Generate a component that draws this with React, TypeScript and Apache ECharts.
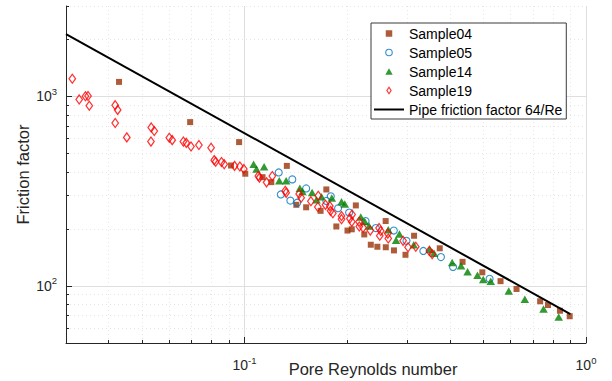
import React, { useEffect, useRef } from 'react';
import * as echarts from 'echarts';

// ---- data ----
const sample04: [number, number][] = [
  [0.0429, 1193], [0.0693, 732], [0.0964, 574], [0.0913, 432], [0.1005, 391],
  [0.1129, 375], [0.1198, 353], [0.133, 430], [0.1418, 268], [0.1515, 260],
  [0.167, 249], [0.1736, 323], [0.1857, 206], [0.2002, 196], [0.2061, 199],
  [0.2118, 266], [0.2242, 187], [0.2343, 165], [0.2449, 161], [0.2592, 160],
  [0.259, 220], [0.2739, 154], [0.296, 146], [0.3137, 184], [0.373, 158],
  [0.435, 134], [0.497, 118], [0.562, 106], [0.626, 96.4], [0.734, 83.0],
  [0.774, 79.3], [0.839, 74.0], [0.896, 69.2],
];
const sample05: [number, number][] = [
  [0.1259, 397], [0.138, 365], [0.1277, 304], [0.1362, 282], [0.1426, 275],
  [0.1515, 327], [0.1789, 297], [0.1736, 281], [0.1879, 257], [0.2024, 244],
  [0.2262, 220], [0.2423, 202], [0.2736, 196], [0.298, 173], [0.3339, 153],
  [0.376, 142], [0.408, 126], [0.522, 109],
];
const sample14: [number, number][] = [
  [0.1063, 439], [0.1084, 414], [0.1141, 425], [0.1264, 359], [0.1324, 359],
  [0.1452, 328], [0.1478, 315], [0.1577, 311], [0.1625, 285], [0.168, 296],
  [0.1801, 291], [0.1923, 278], [0.1966, 271], [0.219, 231], [0.225, 219],
  [0.2316, 207], [0.2636, 198], [0.2842, 188], [0.2778, 174], [0.313, 165],
  [0.3485, 156], [0.3589, 149], [0.4055, 133], [0.4306, 128], [0.45, 119],
  [0.481, 114], [0.5, 108], [0.526, 106], [0.594, 94.1], [0.662, 85.1],
  [0.751, 75.6], [0.832, 68.6],
];
const sample19: [number, number][] = [
  [0.0313, 1240], [0.0328, 964], [0.0342, 1002], [0.0348, 1005], [0.0351, 893],
  [0.0418, 899], [0.0425, 849], [0.0418, 724], [0.0452, 608], [0.0533, 686],
  [0.0544, 657], [0.0532, 578], [0.0602, 605], [0.0614, 588], [0.0662, 578],
  [0.0675, 569], [0.0697, 544], [0.0735, 554], [0.0798, 536], [0.0815, 461],
  [0.0823, 452], [0.0856, 451], [0.0872, 439], [0.0935, 430], [0.0969, 427],
  [0.0995, 414], [0.1097, 380], [0.1106, 373], [0.116, 352], [0.1206, 380],
  [0.1316, 318], [0.1324, 310], [0.1445, 306], [0.1465, 292], [0.1564, 280],
  [0.1644, 299], [0.1639, 261], [0.1726, 268], [0.1777, 264], [0.1786, 249],
  [0.1814, 242], [0.1923, 234], [0.1923, 225], [0.2034, 227], [0.2061, 218],
  [0.2065, 238], [0.2164, 218], [0.2168, 206], [0.2224, 203], [0.2335, 196],
  [0.2477, 202], [0.2489, 184], [0.2506, 195], [0.2628, 189], [0.2636, 178],
  [0.2913, 173], [0.3012, 160], [0.3173, 161], [0.3478, 153], [0.3545, 147],
];
const pipeLine: [number, number][] = [[0.03, 2133], [0.9, 71.1]];

const seriesNames = ['Sample04', 'Sample05', 'Sample14', 'Sample19', 'Pipe friction factor 64/Re'];
const xMajorTicks = [0.1, 1];
const xMinorTicks = [0.04, 0.05, 0.06, 0.07, 0.08, 0.09, 0.2, 0.3, 0.4, 0.5, 0.6, 0.7, 0.8, 0.9];
const yMajorTicks = [100, 1000];
const yMinorTicks = [60, 70, 80, 90, 200, 300, 400, 500, 600, 700, 800, 900, 2000, 3000];

const FONT = '"Liberation Sans", Arial, Helvetica, sans-serif';
const TXT = '#262626';
const MAJOR_GRID = '#dedede';
const MINOR_GRID = '#e6e6e6';
const C04 = '#9A3208';
const C05 = '#0072BD';
const C14 = '#008000';
const C19 = '#FF0000';

const powLabel = (v: number) => `{b|10}{s|${Math.round(Math.log10(v))}}`;
const rich = {
  b: { fontSize: 14, color: TXT, fontFamily: FONT },
  s: { fontSize: 9.5, color: TXT, fontFamily: FONT, padding: [0, 0, 10, 0] },
};

// legend icon shapes (kept in aspect inside the legend's icon box)
const ICON_SQUARE = 'path://M0,0H10V10H0Z';
const ICON_CIRCLE = 'path://M5,0A5,5,0,1,1,5,10A5,5,0,1,1,5,0Z';
const ICON_TRIANGLE = 'path://M5,0L10,8.8L0,8.8Z';
const ICON_DIAMOND = 'path://M3.2,0L6.4,5L3.2,10L0,5Z';

export default function App() {
  const ref = useRef<HTMLDivElement>(null);
  useEffect(() => {
    if (!ref.current) return;
    const chart = echarts.init(ref.current, undefined, { renderer: 'svg' });
    const minorX = {
      type: 'log', logBase: 10, min: 0.03, max: 1, position: 'bottom',
      axisLine: { show: false },
      axisTick: { show: true, inside: true, length: 3, customValues: xMinorTicks, lineStyle: { color: TXT, width: 1 } },
      axisLabel: { show: false },
      splitLine: { show: true, lineStyle: { color: MINOR_GRID, width: 1, type: [1, 3] } },
    };
    const minorY = {
      type: 'log', logBase: 10, min: 50, max: 3000, position: 'left',
      axisLine: { show: false },
      axisTick: { show: true, inside: true, length: 3, customValues: yMinorTicks, lineStyle: { color: TXT, width: 1 } },
      axisLabel: { show: false },
      splitLine: { show: true, lineStyle: { color: MINOR_GRID, width: 1, type: [1, 3] } },
    };
    chart.setOption({
      animation: false,
      backgroundColor: '#ffffff',
      textStyle: { fontFamily: FONT },
      grid: { left: 66, right: 26, top: 6, bottom: 38, containLabel: false, outerBoundsMode: 'none' },
      legend: {
        data: [
          { name: seriesNames[0], icon: ICON_SQUARE, itemStyle: { color: C04, borderWidth: 0 } },
          { name: seriesNames[1], icon: ICON_CIRCLE, itemStyle: { color: 'rgba(255,255,255,0)', borderColor: C05, borderWidth: 1.1 } },
          { name: seriesNames[2], icon: ICON_TRIANGLE, itemStyle: { color: C14, borderWidth: 0 } },
          { name: seriesNames[3], icon: ICON_DIAMOND, itemStyle: { color: 'rgba(255,255,255,0)', borderColor: C19, borderWidth: 1.2 } },
          { name: seriesNames[4] },
        ],
        orient: 'vertical',
        left: 371,
        top: 23,
        padding: [3, 4, 2, 2],
        itemGap: 4,
        itemWidth: 30,
        itemHeight: 6.5,
        symbolKeepAspect: true,
        backgroundColor: '#ffffff',
        borderColor: '#3a3a3a',
        borderWidth: 1,
        borderRadius: 0,
        textStyle: { fontSize: 14, color: '#000', fontFamily: FONT, lineHeight: 15 },
        selectedMode: false,
      },
      xAxis: [
        {
          type: 'log', logBase: 10, min: 0.03, max: 1, position: 'bottom',
          axisLine: { show: true, onZero: false, lineStyle: { color: TXT, width: 1 } },
          axisTick: { show: true, inside: true, length: 6, customValues: xMajorTicks, lineStyle: { color: TXT, width: 1 } },
          axisLabel: { show: true, customValues: xMajorTicks, formatter: powLabel, rich, margin: 12 },
          splitLine: { show: true, lineStyle: { color: MAJOR_GRID, width: 1 } },
          name: 'Pore Reynolds number',
          nameLocation: 'middle',
          nameGap: 17,
          nameMoveOverlap: false,
          nameTextStyle: { fontSize: 16.5, color: TXT, fontFamily: FONT, padding: [0, 0, 0, 94] },
          z: 3,
        },
        minorX,
      ],
      yAxis: [
        {
          type: 'log', logBase: 10, min: 50, max: 3000, position: 'left',
          axisLine: { show: true, onZero: false, lineStyle: { color: TXT, width: 1 } },
          axisTick: { show: true, inside: true, length: 6, customValues: yMajorTicks, lineStyle: { color: TXT, width: 1 } },
          axisLabel: { show: true, customValues: yMajorTicks, formatter: powLabel, rich, margin: 9 },
          splitLine: { show: true, lineStyle: { color: MAJOR_GRID, width: 1 } },
          name: 'Friction factor',
          nameLocation: 'middle',
          nameGap: 35,
          nameMoveOverlap: false,
          nameTextStyle: { fontSize: 16.5, color: TXT, fontFamily: FONT },
          z: 3,
        },
        minorY,
      ],
      series: [
        {
          name: 'Sample04', type: 'scatter', data: sample04, symbol: 'rect', symbolSize: 6,
          itemStyle: { color: C04 }, emphasis: { disabled: true }, z: 4,
        },
        {
          name: 'Sample05', type: 'scatter', data: sample05, symbol: 'circle', symbolSize: 7,
          itemStyle: { color: 'rgba(255,255,255,0)', borderColor: C05, borderWidth: 1.1 },
          emphasis: { disabled: true }, z: 4,
        },
        {
          name: 'Sample14', type: 'scatter', data: sample14, symbol: 'triangle', symbolSize: [8.5, 7.5],
          itemStyle: { color: C14 }, emphasis: { disabled: true }, z: 4,
        },
        {
          name: 'Sample19', type: 'scatter', data: sample19, symbol: 'diamond', symbolSize: [6.5, 9],
          itemStyle: { color: 'rgba(255,255,255,0)', borderColor: C19, borderWidth: 1.3 },
          emphasis: { disabled: true }, z: 4,
        },
        {
          name: 'Pipe friction factor 64/Re', type: 'line', data: pipeLine, symbol: 'none', showSymbol: false,
          lineStyle: { color: '#000000', width: 2 },
          itemStyle: { color: 'rgba(0,0,0,0)', borderColor: 'rgba(0,0,0,0)', borderWidth: 0 },
          emphasis: { disabled: true }, z: 5,
        },
      ],
    } as any);
    return () => chart.dispose();
  }, []);
  return <div ref={ref} style={{ width: 612, height: 381, position: 'absolute', left: 0, top: 0 }} />;
}
